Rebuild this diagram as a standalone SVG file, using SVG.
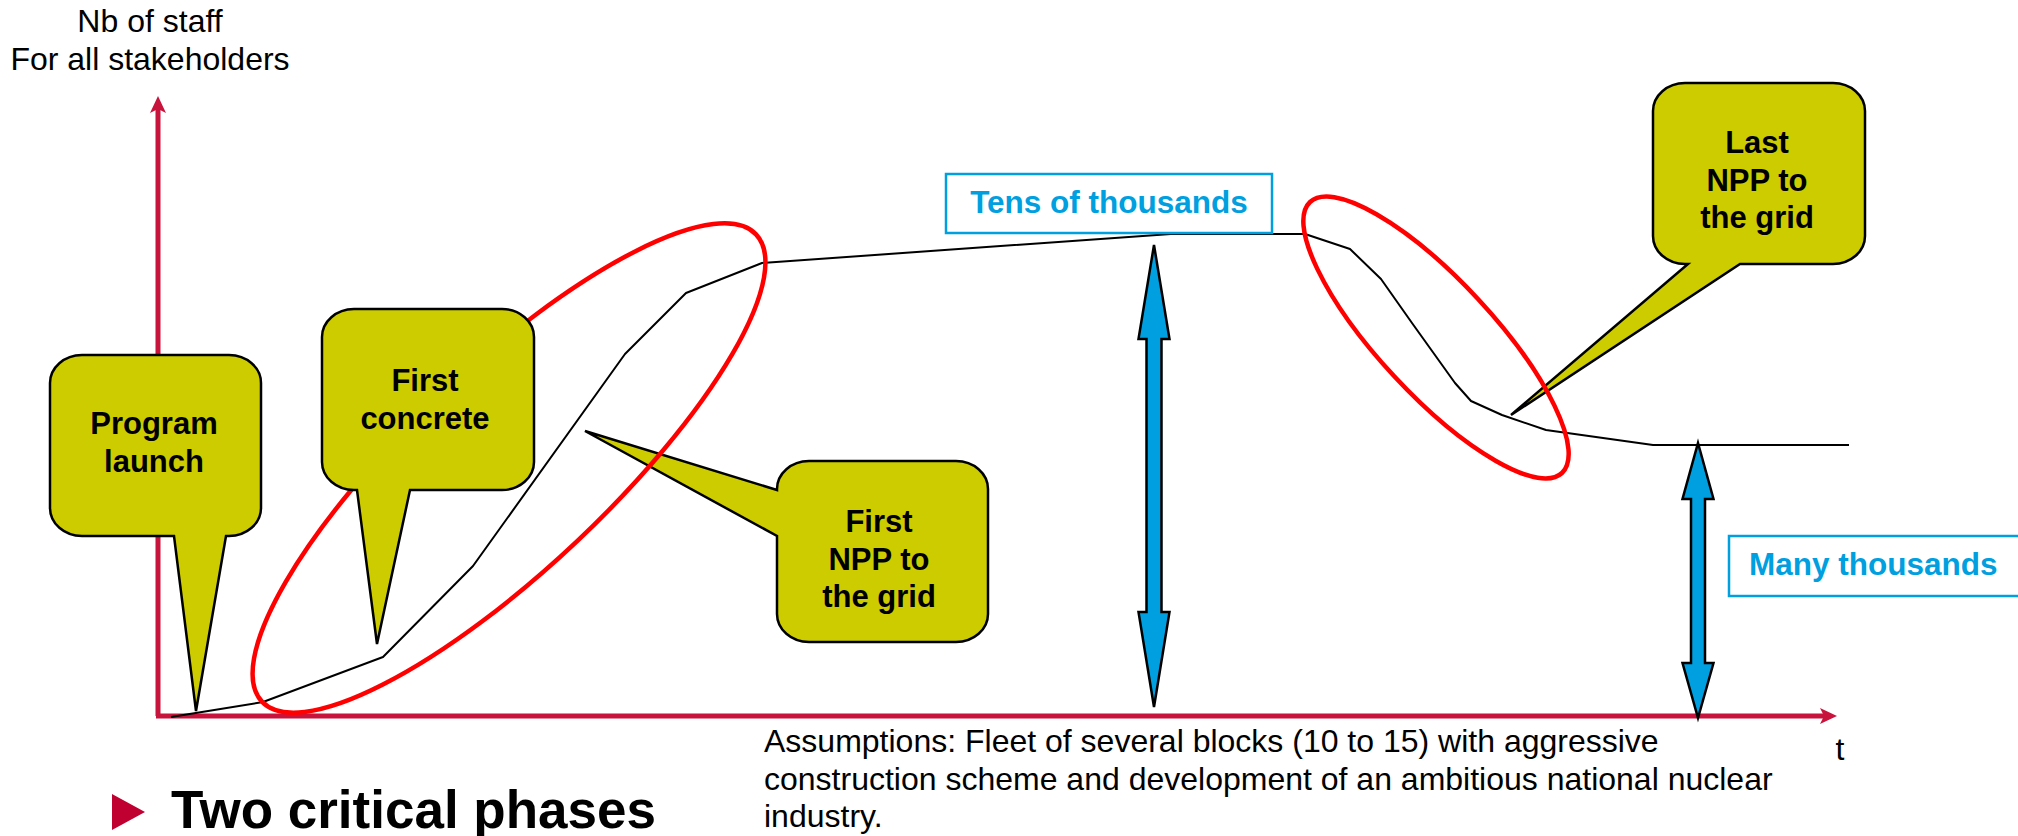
<svg xmlns="http://www.w3.org/2000/svg" width="2018" height="836" viewBox="0 0 2018 836">
<defs>
<style>
.axis{stroke:#C8143C;stroke-width:5;fill:none}
.axhead{fill:#C8143C;stroke:none}
.curve{stroke:#000;stroke-width:2;fill:none;stroke-linejoin:round}
.ring{stroke:#FF0000;stroke-width:4.5;fill:none}
.callout{fill:#CCCC00;stroke:#000;stroke-width:2.5;stroke-linejoin:miter}
.ctext{font-family:"Liberation Sans",Arial,sans-serif;font-weight:bold;font-size:31px;fill:#000;text-anchor:middle}
.lbox{fill:#fff;stroke:#00A0E0;stroke-width:2.5}
.ltext{font-family:"Liberation Sans",Arial,sans-serif;font-weight:bold;font-size:31.5px;fill:#00A0E0}
.barrow{fill:#009FDF;stroke:#000;stroke-width:2.5;stroke-linejoin:miter}
.plain{font-family:"Liberation Sans",Arial,sans-serif;font-size:32px;fill:#000}
</style>
</defs>
<rect width="2018" height="836" fill="#fff"/>

<g id="axes">
<line class="axis" x1="158" y1="716" x2="158" y2="108"/>
<path class="axhead" d="M158,96 L166,113 L158,109 L150,113 Z"/>
<line class="axis" x1="156" y1="716" x2="1828" y2="716"/>
<path class="axhead" d="M1837,716 L1820,724 L1824,716 L1820,708 Z"/>
</g>

<g id="y-label">
<text class="plain" x="150" y="32" text-anchor="middle">Nb of staff</text>
<text class="plain" x="150" y="70" text-anchor="middle">For all stakeholders</text>
</g>
<text id="t-label" class="plain" x="1840" y="760" text-anchor="middle">t</text>

<g id="connectors">
<polyline class="curve" points="171,717 263,702 383,657 473,566 625,354 686,293 762,263 1171,234 1305,234 1350,249 1381,279 1412,323 1455,383 1471,401 1502,415 1546,430 1653,445 1849,445"/>
<path class="barrow" d="M1154,245 L1169.5,339 L1161.5,339 L1161.5,612 L1169.5,612 L1154,707 L1138.5,612 L1146.5,612 L1146.5,339 L1138.5,339 Z"/>
<path class="barrow" d="M1698,443 L1713.5,499 L1705,499 L1705,663 L1713.5,663 L1698,718 L1682.5,663 L1691,663 L1691,499 L1682.5,499 Z"/>
</g>

<g id="callout-first-npp">
<path class="callout" d="M809,461 H956 A32,28 0 0 1 988,489 V614 A32,28 0 0 1 956,642 H809 A32,28 0 0 1 777,614 V536 L585,431 L777,490 V489 A32,28 0 0 1 809,461 Z"/>
<text class="ctext" x="879" y="532">First</text>
<text class="ctext" x="879" y="570">NPP to</text>
<text class="ctext" x="879" y="607">the grid</text>
</g>

<g id="callout-last-npp">
<path class="callout" d="M1685,83 H1833 A32,28 0 0 1 1865,111 V236 A32,28 0 0 1 1833,264 H1740 L1511,415 L1688,264 H1685 A32,28 0 0 1 1653,236 V111 A32,28 0 0 1 1685,83 Z"/>
<text class="ctext" x="1757" y="153">Last</text>
<text class="ctext" x="1757" y="191">NPP to</text>
<text class="ctext" x="1757" y="228">the grid</text>
</g>

<g id="phase-rings">
<ellipse class="ring" cx="509" cy="468" rx="340" ry="100" transform="rotate(-43.4 509 468)"/>
<ellipse class="ring" cx="1436" cy="337.5" rx="185" ry="57" transform="rotate(47.1 1436 337.5)"/>
</g>

<g id="callout-program-launch">
<path class="callout" d="M82,355 H229 A32,28 0 0 1 261,383 V508 A32,28 0 0 1 229,536 H226 L196,711 L174,536 H82 A32,28 0 0 1 50,508 V383 A32,28 0 0 1 82,355 Z"/>
<text class="ctext" x="154" y="434">Program</text>
<text class="ctext" x="154" y="472">launch</text>
</g>

<g id="callout-first-concrete">
<path class="callout" d="M354,309 H502 A32,28 0 0 1 534,337 V462 A32,28 0 0 1 502,490 H410 L377,644 L357,490 H354 A32,28 0 0 1 322,462 V337 A32,28 0 0 1 354,309 Z"/>
<text class="ctext" x="425" y="391">First</text>
<text class="ctext" x="425" y="429">concrete</text>
</g>

<g id="label-tens">
<rect class="lbox" x="946" y="174" width="326" height="59"/>
<text class="ltext" x="1109" y="213" text-anchor="middle">Tens of thousands</text>
</g>

<g id="label-many">
<rect class="lbox" x="1729" y="536" width="300" height="60"/>
<text class="ltext" x="1749" y="575">Many thousands</text>
</g>

<g id="assumptions">
<text class="plain" x="764" y="752">Assumptions: Fleet of several blocks (10 to 15) with aggressive</text>
<text class="plain" x="764" y="790">construction scheme and development of an ambitious national nuclear</text>
<text class="plain" x="764" y="827">industry.</text>
</g>

<g id="heading">
<path d="M112,794 L145,812 L112,830 Z" fill="#C00030"/>
<text x="171" y="828" font-family="'Liberation Sans',Arial,sans-serif" font-weight="bold" font-size="53" fill="#000">Two critical phases</text>
</g>
</svg>
